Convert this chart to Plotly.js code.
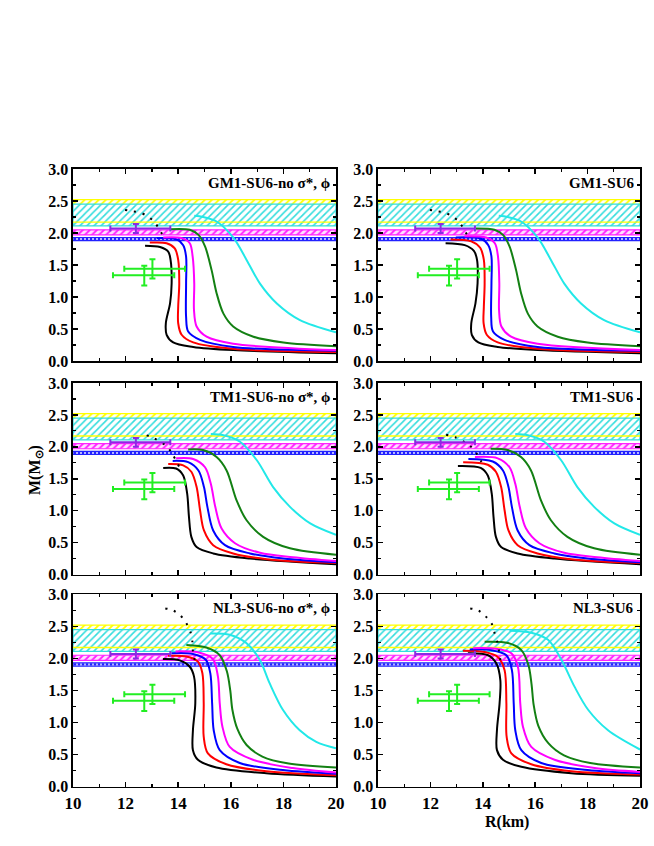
<!DOCTYPE html>
<html><head><meta charset="utf-8">
<script src="https://cdn.plot.ly/plotly-3.0.1.min.js"></script>
<style>body{margin:0;background:#fff}#c{width:654px;height:846px}</style>
</head><body><div id="c"></div>
<script>
// ---------- data (R in km, M in solar masses) ----------
const panelLabels = ["GM1-SU6-no σ*, ϕ", "GM1-SU6", "TM1-SU6-no σ*, ϕ", "TM1-SU6", "NL3-SU6-no σ*, ϕ", "NL3-SU6"];
const curveColors = ["#000000", "#ff0000", "#0000ff", "#ff00ff", "#138013", "#22e8e8"];

// GM1-SU6-no sigma*, phi
const gm1n_black_R = [12.74,13.31,13.62,13.71,13.75,13.69,13.53,13.56,13.81,14.57,16.09,20];
const gm1n_black_M = [1.80,1.78,1.71,1.58,1.21,0.90,0.59,0.41,0.29,0.22,0.17,0.12];
const gm1n_red_R = [12.92,13.56,13.87,14.00,14.04,14.00,14.00,14.13,14.57,16.09,20];
const gm1n_red_M = [1.85,1.84,1.76,1.58,1.21,0.85,0.59,0.41,0.29,0.19,0.14];
const gm1n_blue_R = [13.18,13.94,14.19,14.30,14.30,14.30,14.38,14.83,16.09,20];
const gm1n_blue_M = [1.92,1.90,1.81,1.63,1.21,0.69,0.46,0.33,0.22,0.16];
const gm1n_mag_R = [13.43,14.13,14.44,14.55,14.61,14.60,14.70,15.08,16.09,20];
const gm1n_mag_M = [1.93,1.92,1.84,1.63,1.21,0.80,0.54,0.38,0.27,0.17];
const gm1n_green_R = [13.69,14.44,14.77,15.02,15.27,15.46,15.72,16.09,16.86,18.0,20];
const gm1n_green_M = [2.06,2.05,1.97,1.79,1.42,1.06,0.74,0.54,0.38,0.29,0.23];
const gm1n_cyan_R = [14.61,14.95,15.46,16.09,16.60,17.11,17.75,18.63,20];
const gm1n_cyan_M = [2.27,2.25,2.18,1.93,1.58,1.21,0.90,0.64,0.45];
const gm1n_dot_R = [11.98,12.27,12.55,12.80,13.08,13.43];
const gm1n_dot_M = [2.36,2.34,2.32,2.27,2.18,1.95];

// GM1-SU6
const gm1_black_R = [12.58,13.31,13.66,13.78,13.80,13.72,13.56,13.58,13.83,14.57,16.09,20];
const gm1_black_M = [1.84,1.81,1.72,1.58,1.21,0.90,0.59,0.41,0.29,0.22,0.17,0.12];
const gm1_red_R = [12.77,13.56,13.90,14.04,14.07,14.04,14.03,14.15,14.57,16.09,20];
const gm1_red_M = [1.90,1.87,1.77,1.58,1.21,0.85,0.59,0.41,0.29,0.19,0.14];
const gm1_blue_R = [12.97,13.94,14.21,14.33,14.33,14.32,14.39,14.83,16.09,20];
const gm1_blue_M = [1.93,1.91,1.81,1.63,1.21,0.69,0.46,0.33,0.22,0.16];
const gm1_mag_R = [13.30,14.13,14.46,14.58,14.63,14.62,14.71,15.08,16.09,20];
const gm1_mag_M = [1.95,1.93,1.84,1.63,1.21,0.80,0.54,0.38,0.27,0.17];
const gm1_green_R = [13.73,14.44,14.77,15.02,15.27,15.46,15.72,16.09,16.86,18.0,20];
const gm1_green_M = [2.07,2.05,1.97,1.79,1.42,1.06,0.74,0.54,0.38,0.29,0.23];
const gm1_cyan_R = [14.61,14.95,15.46,16.09,16.60,17.11,17.75,18.63,20];
const gm1_cyan_M = [2.27,2.25,2.18,1.93,1.58,1.21,0.90,0.64,0.45];
const gm1_dot_R = [11.98,12.27,12.55,12.80,13.08,13.43];
const gm1_dot_M = [2.36,2.34,2.32,2.27,2.18,1.95];

// TM1-SU6-no sigma*, phi
const tm1n_black_R = [13.43,13.92,14.19,14.34,14.41,14.50,14.70,15.33,16.73,20];
const tm1n_black_M = [1.67,1.66,1.55,1.27,0.90,0.59,0.43,0.33,0.25,0.16];
const tm1n_red_R = [13.62,14.19,14.50,14.70,14.83,14.98,15.33,16.09,17.37,20];
const tm1n_red_M = [1.73,1.71,1.61,1.37,1.01,0.69,0.46,0.33,0.24,0.18];
const tm1n_blue_R = [13.79,14.38,14.77,14.98,15.11,15.33,15.78,16.73,18.0,20];
const tm1n_blue_M = [1.78,1.76,1.63,1.37,1.06,0.69,0.46,0.33,0.25,0.19];
const tm1n_mag_R = [13.92,14.57,15.02,15.24,15.41,15.65,16.16,17.11,18.37,20];
const tm1n_mag_M = [1.82,1.81,1.68,1.42,1.06,0.72,0.49,0.34,0.27,0.21];
const tm1n_green_R = [14.38,14.95,15.46,15.84,16.22,16.60,17.23,18.25,20];
const tm1n_green_M = [1.96,1.95,1.84,1.63,1.16,0.85,0.59,0.41,0.31];
const tm1n_cyan_R = [15.24,15.72,16.35,16.99,17.61,18.25,19.02,20];
const tm1n_cyan_M = [2.20,2.18,2.08,1.79,1.37,1.06,0.80,0.62];
const tm1n_dot_R = [12.80,13.05,13.56,13.79,14.07];
const tm1n_dot_M = [2.18,2.14,2.01,1.88,1.66];

// TM1-SU6
const tm1_black_R = [13.05,13.92,14.19,14.34,14.41,14.50,14.70,15.33,16.73,20];
const tm1_black_M = [1.70,1.67,1.55,1.27,0.90,0.59,0.43,0.33,0.25,0.16];
const tm1_red_R = [13.25,14.19,14.50,14.70,14.83,14.98,15.33,16.09,17.37,20];
const tm1_red_M = [1.76,1.72,1.61,1.37,1.01,0.69,0.46,0.33,0.24,0.18];
const tm1_blue_R = [13.45,14.38,14.77,14.98,15.11,15.33,15.78,16.73,18.0,20];
const tm1_blue_M = [1.81,1.77,1.63,1.37,1.06,0.69,0.46,0.33,0.25,0.19];
const tm1_mag_R = [13.70,14.57,15.02,15.24,15.41,15.65,16.16,17.11,18.37,20];
const tm1_mag_M = [1.84,1.82,1.68,1.42,1.06,0.72,0.49,0.34,0.27,0.21];
const tm1_green_R = [14.30,14.95,15.46,15.84,16.22,16.60,17.23,18.25,20];
const tm1_green_M = [1.97,1.95,1.84,1.63,1.16,0.85,0.59,0.41,0.31];
const tm1_cyan_R = [15.24,15.72,16.35,16.99,17.61,18.25,19.02,20];
const tm1_cyan_M = [2.20,2.18,2.08,1.79,1.37,1.06,0.80,0.62];
const tm1_dot_R = [12.60,12.95,13.50,13.79,14.07];
const tm1_dot_M = [2.19,2.15,2.02,1.88,1.66];

// NL3-SU6-no sigma*, phi
const nl3n_black_R = [13.42,14.06,14.44,14.60,14.65,14.56,14.56,14.75,15.45,17.35,20];
const nl3n_black_M = [1.99,1.97,1.87,1.72,1.30,0.88,0.57,0.42,0.30,0.21,0.16];
const nl3n_red_R = [13.61,14.31,14.75,14.92,14.97,14.97,15.13,15.83,17.35,20];
const nl3n_red_M = [2.04,2.03,1.95,1.77,1.30,0.78,0.52,0.35,0.24,0.18];
const nl3n_blue_R = [13.74,14.56,15.05,15.22,15.29,15.35,15.58,16.34,17.98,20];
const nl3n_blue_M = [2.08,2.07,1.98,1.77,1.30,0.88,0.57,0.37,0.26,0.20];
const nl3n_mag_R = [13.90,14.82,15.32,15.51,15.58,15.68,15.96,16.84,18.36,20];
const nl3n_mag_M = [2.11,2.09,1.99,1.72,1.30,0.94,0.62,0.42,0.29,0.22];
const nl3n_green_R = [14.31,15.07,15.58,15.85,15.98,16.06,16.25,16.60,17.20,18.20,20];
const nl3n_green_M = [2.21,2.17,2.05,1.80,1.50,1.20,0.90,0.65,0.47,0.36,0.30];
const nl3n_cyan_R = [15.22,15.96,16.59,17.10,17.48,17.98,18.62,19.25,20];
const nl3n_cyan_M = [2.39,2.37,2.24,1.98,1.61,1.20,0.88,0.70,0.60];
const nl3n_dot_R = [13.51,13.80,14.06,14.29,14.46,14.54,14.56,14.69];
const nl3n_dot_M = [2.78,2.75,2.68,2.56,2.42,2.26,2.11,1.87];

// NL3-SU6
const nl3_black_R = [13.43,14.20,14.52,14.67,14.64,14.54,14.54,14.77,15.47,17.38,20];
const nl3_black_M = [2.08,2.05,1.92,1.66,1.30,0.88,0.57,0.42,0.31,0.21,0.17];
const nl3_red_R = [13.24,14.07,14.58,14.83,14.90,14.91,15.09,15.85,17.38,20];
const nl3_red_M = [2.12,2.10,2.02,1.82,1.30,0.78,0.52,0.35,0.24,0.19];
const nl3_blue_R = [13.50,14.32,14.90,15.11,15.18,15.24,15.47,16.23,18.0,20];
const nl3_blue_M = [2.14,2.13,2.05,1.82,1.30,0.88,0.57,0.37,0.26,0.21];
const nl3_mag_R = [13.63,14.51,15.09,15.34,15.43,15.53,15.85,16.74,18.27,20];
const nl3_mag_M = [2.16,2.15,2.08,1.87,1.30,0.94,0.62,0.42,0.29,0.23];
const nl3_green_R = [14.07,14.96,15.47,15.74,15.86,15.94,16.12,16.50,17.10,18.10,20];
const nl3_green_M = [2.26,2.24,2.13,1.90,1.60,1.28,0.95,0.68,0.49,0.37,0.30];
const nl3_cyan_R = [15.02,15.85,16.49,17.00,17.50,18.02,18.78,20];
const nl3_cyan_M = [2.43,2.40,2.29,1.98,1.56,1.20,0.88,0.58];
const nl3_dot_R = [13.52,13.82,14.07,14.32,14.43,14.55,14.62,14.71];
const nl3_dot_M = [2.78,2.75,2.67,2.56,2.42,2.26,2.11,1.87];

// observational constraints (mass bands: [low, high])
const bandYellow = [2.17, 2.52];
const bandCyan = [2.11, 2.45];
const bandMagenta = [1.97, 2.05];
const bandBlue = [1.88, 1.93];
// purple point: R, M with asymmetric errors
const purpleR = [12.39], purpleM = [2.07], purpleRplus = [1.31], purpleRminus = [0.97], purpleMerr = [0.07];
// green points
const greenR = [12.71, 13.02], greenM = [1.34, 1.44];
const greenRplus = [1.14, 1.24], greenRminus = [1.19, 1.07];
const greenMplus = [0.15, 0.15], greenMminus = [0.16, 0.15];

const panels = [
  [[gm1n_black_R,gm1n_black_M],[gm1n_red_R,gm1n_red_M],[gm1n_blue_R,gm1n_blue_M],[gm1n_mag_R,gm1n_mag_M],[gm1n_green_R,gm1n_green_M],[gm1n_cyan_R,gm1n_cyan_M],[gm1n_dot_R,gm1n_dot_M]],
  [[gm1_black_R,gm1_black_M],[gm1_red_R,gm1_red_M],[gm1_blue_R,gm1_blue_M],[gm1_mag_R,gm1_mag_M],[gm1_green_R,gm1_green_M],[gm1_cyan_R,gm1_cyan_M],[gm1_dot_R,gm1_dot_M]],
  [[tm1n_black_R,tm1n_black_M],[tm1n_red_R,tm1n_red_M],[tm1n_blue_R,tm1n_blue_M],[tm1n_mag_R,tm1n_mag_M],[tm1n_green_R,tm1n_green_M],[tm1n_cyan_R,tm1n_cyan_M],[tm1n_dot_R,tm1n_dot_M]],
  [[tm1_black_R,tm1_black_M],[tm1_red_R,tm1_red_M],[tm1_blue_R,tm1_blue_M],[tm1_mag_R,tm1_mag_M],[tm1_green_R,tm1_green_M],[tm1_cyan_R,tm1_cyan_M],[tm1_dot_R,tm1_dot_M]],
  [[nl3n_black_R,nl3n_black_M],[nl3n_red_R,nl3n_red_M],[nl3n_blue_R,nl3n_blue_M],[nl3n_mag_R,nl3n_mag_M],[nl3n_green_R,nl3n_green_M],[nl3n_cyan_R,nl3n_cyan_M],[nl3n_dot_R,nl3n_dot_M]],
  [[nl3_black_R,nl3_black_M],[nl3_red_R,nl3_red_M],[nl3_blue_R,nl3_blue_M],[nl3_mag_R,nl3_mag_M],[nl3_green_R,nl3_green_M],[nl3_cyan_R,nl3_cyan_M],[nl3_dot_R,nl3_dot_M]]
];

// ---------- layout geometry ----------
const W = 654, H = 846;
const colX = [[73, 336], [378, 640]];
const rowY = [[169, 361], [383, 574.5], [594.3, 786.7]];
const SERIF = "Liberation Serif, Times New Roman, serif";

const traces = [];
const layout = {
  width: W, height: H, margin: {l:0, r:0, t:0, b:0},
  paper_bgcolor: "#fff", plot_bgcolor: "rgba(0,0,0,0)", showlegend: false,
  font: {family: SERIF, size: 15, weight: "bold", color: "#000"},
  annotations: []
};

function band(xa, ya, lim, color, shape, bg, sol) {
  traces.push({x:[10,20,20,10,10], y:[lim[0],lim[0],lim[1],lim[1],lim[0]], xaxis:xa, yaxis:ya,
    mode:"lines", fill:"toself", line:{color:color, width:1.2}, fillcolor:"rgba(0,0,0,0)",
    fillpattern:{shape:shape, fgcolor:color, bgcolor:bg, size:shape==="."?4:5, solidity:sol},
    hoverinfo:"skip"});
}

for (let p = 0; p < 6; p++) {
  const r = Math.floor(p/2), c = p % 2;
  const idx = p === 0 ? "" : String(p+1);
  const xa = "x"+idx, ya = "y"+idx;
  const xd = [colX[c][0]/W, colX[c][1]/W];
  const yd = [1-rowY[r][1]/H, 1-rowY[r][0]/H];
  layout["xaxis"+idx] = {domain:xd, range:[10,20], anchor:ya, showgrid:false, zeroline:false,
    showline:true, linecolor:"#000", linewidth:1.6, mirror:"allticks", ticks:"inside", ticklen:5, tickwidth:1.5,
    tickcolor:"#000", dtick:2, tick0:10, showticklabels: r===2,
    tickfont:{family:SERIF, size:17, weight:"bold", color:"#000"},
    minor:{dtick:1, ticks:"inside", ticklen:3, tickwidth:1.2, tickcolor:"#000"}};
  layout["yaxis"+idx] = {domain:yd, range:[0,3], anchor:xa, showgrid:false, zeroline:false,
    showline:true, linecolor:"#000", linewidth:1.6, mirror:"allticks", ticks:"inside", ticklen:5, tickwidth:1.5,
    tickcolor:"#000", dtick:0.5, tick0:0, tickformat:".1f",
    tickfont:{family:SERIF, size:16, weight:"bold", color:"#000"},
    minor:{dtick:0.25, ticks:"inside", ticklen:3, tickwidth:1.2, tickcolor:"#000"}};

  band(xa, ya, bandYellow, "#ffff00", "/", "rgba(0,0,0,0)", 0.35);
  band(xa, ya, bandCyan, "#33dddd", "/", "#ffffff", 0.32);
  traces.push({x:[10,20], y:[bandYellow[0],bandYellow[0]], xaxis:xa, yaxis:ya, mode:"lines", line:{color:"#ffff00", width:1.4}, hoverinfo:"skip"});
  band(xa, ya, bandMagenta, "#ff22ff", "/", "#ffe0ff", 0.38);
  band(xa, ya, bandBlue, "#2222ff", ".", "#ffffff", 0.45);

  const cs = panels[p];
  for (let k = 0; k < 6; k++) {
    traces.push({x:cs[k][0], y:cs[k][1], xaxis:xa, yaxis:ya, mode:"lines",
      line:{color:curveColors[k], width:2, shape:"spline", smoothing:0.9}, hoverinfo:"skip"});
  }
  traces.push({x:cs[6][0], y:cs[6][1], xaxis:xa, yaxis:ya, mode:"lines",
    line:{color:"#000", width:2, dash:"2px,7px", shape:"spline", smoothing:0.8}, hoverinfo:"skip"});

  traces.push({x:purpleR, y:purpleM, xaxis:xa, yaxis:ya, mode:"markers", marker:{size:1, color:"#8a2be2"},
    error_x:{type:"data", array:purpleRplus, arrayminus:purpleRminus, color:"#8a2be2", thickness:2, width:3},
    error_y:{type:"data", array:purpleMerr, color:"#8a2be2", thickness:2, width:3}, hoverinfo:"skip"});
  traces.push({x:greenR, y:greenM, xaxis:xa, yaxis:ya, mode:"markers", marker:{size:1, color:"#22ee22"},
    error_x:{type:"data", array:greenRplus, arrayminus:greenRminus, color:"#22ee22", thickness:2, width:3},
    error_y:{type:"data", array:greenMplus, arrayminus:greenMminus, color:"#22ee22", thickness:2, width:3}, hoverinfo:"skip"});

  layout.annotations.push({xref:"paper", yref:"paper", x:(colX[c][1]-4)/W, y:1-(rowY[r][0]+14)/H,
    xanchor:"right", yanchor:"middle", showarrow:false, text:panelLabels[p],
    font:{family:SERIF, size:15, weight:"bold", color:"#000"}});
}

layout.annotations.push({xref:"paper", yref:"paper", x:35/W, y:1-470/H, textangle:-90, showarrow:false,
  xanchor:"center", yanchor:"middle", text:"M(M<sub>⊙</sub>)", font:{family:SERIF, size:16, weight:"bold", color:"#000"}});
layout.annotations.push({xref:"paper", yref:"paper", x:507/W, y:1-822/H, showarrow:false,
  xanchor:"center", yanchor:"middle", text:"R(km)", font:{family:SERIF, size:16, weight:"bold", color:"#000"}});

Plotly.newPlot("c", traces, layout, {staticPlot:true, displayModeBar:false});
</script>
</body></html>
